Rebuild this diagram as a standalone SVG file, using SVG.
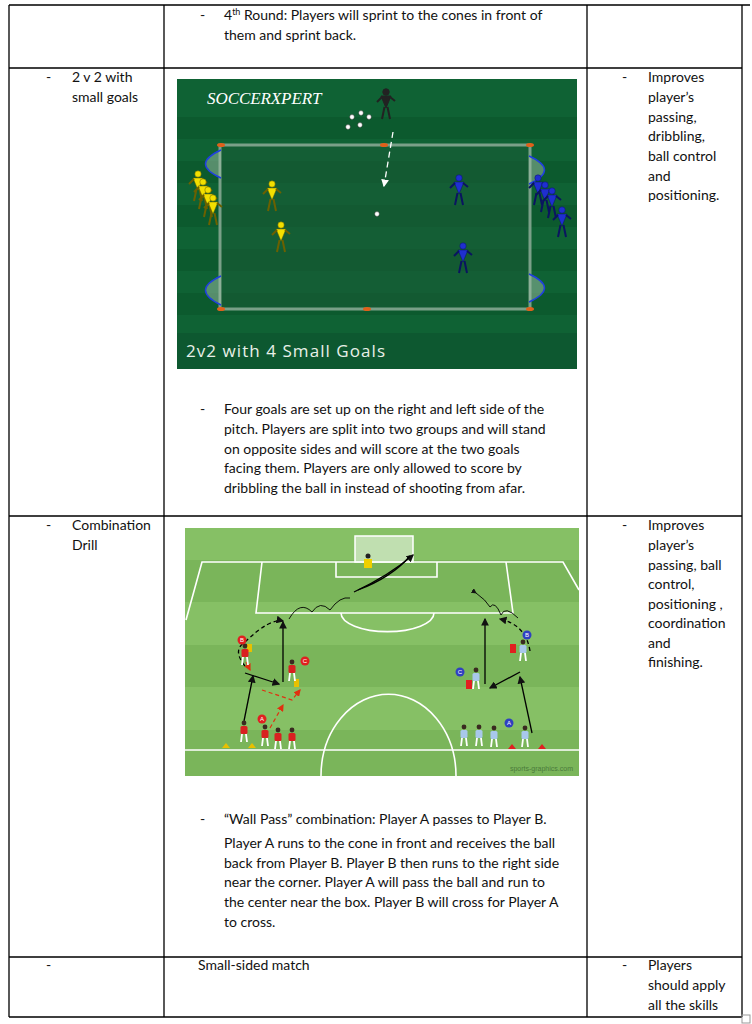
<svg xmlns="http://www.w3.org/2000/svg" width="752" height="1024" viewBox="0 0 752 1024">
<style>
.t{font-family:Lato,"Open Sans",sans-serif;font-size:14px;fill:#111}
.g{stroke:#000;stroke-width:1.3;fill:none}
.y{fill:#f2e000;stroke:#6b6000;stroke-width:.5}
.b{fill:#1f2fd0;stroke:#0a1460;stroke-width:.5}
.r{fill:#d92020}
.lb{fill:#a8c8ea}
.wl{stroke:#fff;stroke-width:1.6;fill:none}
</style>
<defs>
<marker id="ah" markerWidth="6" markerHeight="6" refX="5" refY="3" orient="auto"><path d="M0,0L6,3L0,6z" fill="#111"/></marker>
<marker id="ahw" markerWidth="6" markerHeight="6" refX="5" refY="3" orient="auto"><path d="M0,0L6,3L0,6z" fill="#fff"/></marker>
<marker id="ahr" markerWidth="6" markerHeight="6" refX="5" refY="3" orient="auto"><path d="M0,0L6,3L0,6z" fill="#e03010"/></marker>
<g id="fy"><circle cx="0" cy="-12" r="3.2"/><path d="M-5,-8H5L0,4z"/><path d="M-1.5,3L-4,15M1.5,3L4,15M-4,-7L-9,-2M4,-7L9,-3" stroke-width="2" fill="none"/></g>
<g id="man"><circle cx="0" cy="-10" r="2.4" fill="#3a2a20"/><rect x="-3.5" y="-7" width="7" height="8" rx="1.5"/><path d="M-2,1L-3,9M2,1L3,9" stroke="#fff" stroke-width="1.8"/></g>
</defs>

<g id="table" stroke="#000" stroke-width="1.3" fill="none">
<path d="M9,5H750M9,68H742M9,516H742M9,957H742M9,1017H742"/>
<path d="M9,5V1017M164,5V1017M587,5V1017M742,5V1017"/>
<rect x="742" y="1015" width="8" height="8" stroke="#999" stroke-width="1"/>
</g>

<g id="row1">
<text class="t" x="200" y="20">-</text>
<text class="t" x="224" y="20">4<tspan font-size="9" dy="-5">th</tspan><tspan dy="5"> Round: Players will sprint to the cones in front of</tspan></text>
<text class="t" x="224" y="40">them and sprint back.</text>
</g>

<g id="row2">
<text class="t" x="46" y="82">-</text>
<text class="t" x="72" y="82">2 v 2 with</text>
<text class="t" x="72" y="102">small goals</text>
<text class="t" x="622" y="82">-</text>
<text class="t" x="648" y="82">Improves</text>
<text class="t" x="648" y="102">player’s</text>
<text class="t" x="648" y="122">passing,</text>
<text class="t" x="648" y="141">dribbling,</text>
<text class="t" x="648" y="161">ball control</text>
<text class="t" x="648" y="181">and</text>
<text class="t" x="648" y="200">positioning.</text>
<text class="t" x="200" y="414">-</text>
<text class="t" x="224" y="414">Four goals are set up on the right and left side of the</text>
<text class="t" x="224" y="434">pitch. Players are split into two groups and will stand</text>
<text class="t" x="224" y="454">on opposite sides and will score at the two goals</text>
<text class="t" x="224" y="473">facing them. Players are only allowed to score by</text>
<text class="t" x="224" y="493">dribbling the ball in instead of shooting from afar.</text>
</g>

<g id="pitch1">
<rect x="177" y="79" width="400" height="290" fill="#0f6234"/>
<g fill="#0c5a2e"><rect x="177" y="117" width="400" height="22"/><rect x="177" y="161" width="400" height="22"/><rect x="177" y="205" width="400" height="22"/><rect x="177" y="249" width="400" height="22"/><rect x="177" y="293" width="400" height="22"/></g>
<rect x="177" y="333" width="400" height="36" fill="#0d5830"/>
<rect x="220" y="145" width="310" height="164" fill="#1a5a36" fill-opacity=".5" stroke="#7aa088" stroke-width="3"/>
<g fill="#9fc0a8" fill-opacity=".5" stroke="#2040e0" stroke-width="1.5">
<path d="M221,150Q190,164 221,178"/><path d="M221,276Q190,290 221,305"/>
<path d="M529,156Q560,170 529,184"/><path d="M529,274Q560,288 529,302"/>
</g>
<g fill="#e0601a"><ellipse cx="221" cy="145" rx="4" ry="2"/><ellipse cx="384" cy="145" rx="4" ry="2"/><ellipse cx="530" cy="145" rx="4" ry="2"/><ellipse cx="221" cy="309" rx="4" ry="2"/><ellipse cx="367" cy="309" rx="4" ry="2"/><ellipse cx="530" cy="309" rx="4" ry="2"/></g>
<text x="207" y="104" font-family="'Liberation Serif',serif" font-size="17" font-style="italic" fill="#fff" letter-spacing="-0.5" textLength="114">SOCCERXPERT</text>
<text x="186" y="357" font-family="'Open Sans',sans-serif" font-size="17" fill="#e8f0e8" textLength="199">2v2 with 4 Small Goals</text>
<g fill="#fff" stroke="#333" stroke-width=".5"><circle cx="352" cy="117" r="2.4"/><circle cx="361" cy="113" r="2.4"/><circle cx="369" cy="117" r="2.4"/><circle cx="348" cy="127" r="2.4"/><circle cx="360" cy="125" r="2.4"/><circle cx="377" cy="214" r="2.4"/></g>
<path d="M393,132L384,186" stroke="#fff" stroke-width="1.3" stroke-dasharray="6,4" marker-end="url(#ahw)"/>
<g fill="#222" stroke="#222"><use href="#fy" x="386" y="104"/></g>
<g class="y" stroke="#8a7a00"><use href="#fy" x="198" y="186"/><use href="#fy" x="203" y="194"/><use href="#fy" x="208" y="202"/><use href="#fy" x="213" y="210"/><use href="#fy" x="272" y="196"/><use href="#fy" x="281" y="237"/></g>
<g class="b" stroke="#1020a0"><use href="#fy" x="459" y="190"/><use href="#fy" x="463" y="258"/><use href="#fy" x="538" y="190"/><use href="#fy" x="545" y="197"/><use href="#fy" x="552" y="203"/><use href="#fy" x="562" y="222"/></g>
</g>

<g id="row3">
<text class="t" x="46" y="530">-</text>
<text class="t" x="72" y="530">Combination</text>
<text class="t" x="72" y="550">Drill</text>
<text class="t" x="622" y="530">-</text>
<text class="t" x="648" y="530">Improves</text>
<text class="t" x="648" y="550">player’s</text>
<text class="t" x="648" y="570">passing, ball</text>
<text class="t" x="648" y="589">control,</text>
<text class="t" x="648" y="609">positioning ,</text>
<text class="t" x="648" y="628">coordination</text>
<text class="t" x="648" y="648">and</text>
<text class="t" x="648" y="667">finishing.</text>
<text class="t" x="200" y="824">-</text>
<text class="t" x="224" y="824">“Wall Pass” combination: Player A passes to Player B.</text>
<text class="t" x="224" y="848">Player A runs to the cone in front and receives the ball</text>
<text class="t" x="224" y="868">back from Player B. Player B then runs to the right side</text>
<text class="t" x="224" y="887">near the corner. Player A will pass the ball and run to</text>
<text class="t" x="224" y="907">the center near the box. Player B will cross for Player A</text>
<text class="t" x="224" y="927">to cross.</text>
</g>

<g id="pitch2">
<rect x="185" y="528" width="394" height="248" fill="#86c065"/>
<g fill="#7ab55a"><rect x="185" y="560" width="394" height="42"/><rect x="185" y="645" width="394" height="42"/><rect x="185" y="730" width="394" height="46"/></g>
<g class="wl">
<path d="M186,620L202,562H563L579,590"/>
<path d="M262,562L256,613H513L506,562"/>
<path d="M336,562V577H437V562"/>
<path d="M341,613A45,18 0 0 0 434,613"/>
<path d="M185,750H579"/>
<path d="M321,776A66,80 0 0 1 456,776"/>
</g>
<rect x="355" y="536" width="58" height="26" fill="#d8ecd0" fill-opacity=".7" stroke="#fff" stroke-width="1.5"/>
<g fill="#f0d000"><rect x="364" y="559" width="8" height="9"/></g><circle cx="368" cy="556" r="2.5" fill="#222"/>
<g class="g" stroke-width="1">
<path d="M354,592Q390,575 413,555" marker-end="url(#ah)"/>
<path d="M358,590Q392,577 410,556"/>
<path d="M289,619Q300,600 312,612Q320,600 330,610Q340,596 350,598" stroke-width=".9"/>
<path d="M476,593Q486,600 490,607Q495,600 501,615Q505,605 518,618" stroke-width=".9" marker-start="url(#ah)"/>
<path d="M245,642Q270,618 283,621" stroke-dasharray="4,3" marker-end="url(#ah)"/>
<path d="M245,666Q232,650 245,642" stroke-dasharray="4,3"/>
<path d="M530,651Q526,625 500,619" stroke-dasharray="4,3" marker-end="url(#ah)"/>
<path d="M283,682V622" marker-end="url(#ah)"/>
<path d="M485,684V619" marker-end="url(#ah)"/>
<path d="M245,673L279,684" marker-end="url(#ah)"/>
<path d="M520,672L490,688" marker-end="url(#ah)"/>
<path d="M244,721L253,676" marker-end="url(#ah)"/>
<path d="M532,733L520,677" marker-end="url(#ah)"/>
</g>
<g stroke="#e03010" stroke-width="1.2" fill="none" stroke-dasharray="4,3"><path d="M262,690L292,700L300,690" marker-end="url(#ahr)"/><path d="M270,728L283,705" marker-end="url(#ahr)"/><path d="M246,662L250,670" marker-end="url(#ahr)"/></g>
<g fill="#e8c000"><path d="M222,748l4,-5l4,5z"/><path d="M248,748l4,-5l4,5z"/><rect x="247" y="644" width="5" height="8"/><rect x="294" y="679" width="5" height="8"/></g>
<g fill="#e02020"><path d="M508,749l4,-5l4,5z"/><path d="M538,749l4,-5l4,5z"/><rect x="466" y="680" width="6" height="9"/><rect x="510" y="644" width="6" height="9"/></g>
<g class="r"><use href="#man" x="245" y="656"/><use href="#man" x="292" y="672"/><use href="#man" x="244" y="733"/><use href="#man" x="265" y="737"/><use href="#man" x="278" y="740"/><use href="#man" x="292" y="740"/></g>
<g class="lb"><use href="#man" x="523" y="652"/><use href="#man" x="476" y="680"/><use href="#man" x="464" y="737"/><use href="#man" x="479" y="737"/><use href="#man" x="494" y="738"/><use href="#man" x="525" y="738"/></g>
<g font-family="'Liberation Sans',sans-serif" font-size="6" fill="#fff" text-anchor="middle">
<circle cx="242" cy="640" r="4.5" fill="#e02020"/><text x="242" y="642">B</text>
<circle cx="305" cy="661" r="4.5" fill="#e02020"/><text x="305" y="663">C</text>
<circle cx="262" cy="719" r="4.5" fill="#e02020"/><text x="262" y="721">A</text>
<circle cx="527" cy="635" r="4.5" fill="#3040c0"/><text x="527" y="637">B</text>
<circle cx="460" cy="672" r="4.5" fill="#3040c0"/><text x="460" y="674">C</text>
<circle cx="509" cy="723" r="4.5" fill="#3040c0"/><text x="509" y="725">A</text>
</g>
<text x="573" y="771" font-family="'Liberation Sans',sans-serif" font-size="7" fill="#4a7a3a" text-anchor="end">sports-graphics.com</text>
</g>

<g id="row4">
<text class="t" x="46" y="970">-</text>
<text class="t" x="198" y="970">Small-sided match</text>
<text class="t" x="622" y="970">-</text>
<text class="t" x="648" y="970">Players</text>
<text class="t" x="648" y="990">should apply</text>
<text class="t" x="648" y="1010">all the skills</text>
</g>
</svg>
